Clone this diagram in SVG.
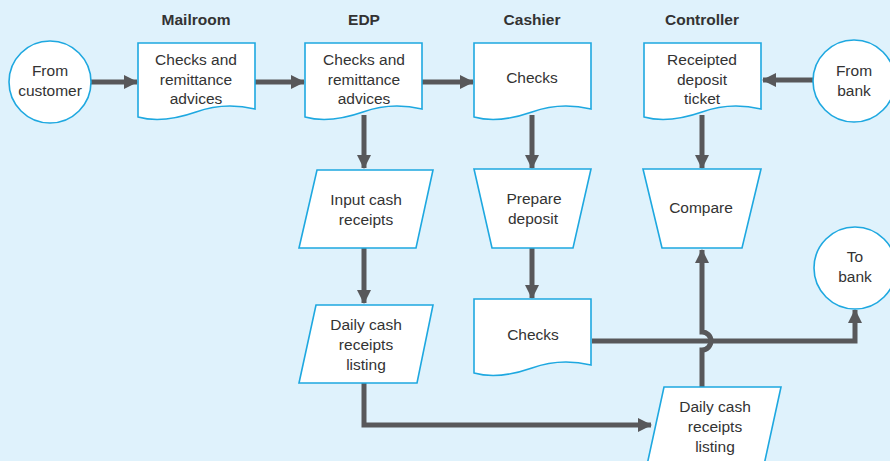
<svg xmlns="http://www.w3.org/2000/svg" width="890" height="461" viewBox="0 0 890 461">
  <defs>
    <style>
      .shape { fill: #ffffff; stroke: #1ea8e0; stroke-width: 1.6; }
      .label { font-family: "Liberation Sans", Arial, sans-serif; font-size: 15.5px; fill: #333333; text-anchor: middle; }
      .head { font-family: "Liberation Sans", Arial, sans-serif; font-size: 15.5px; font-weight: bold; fill: #333333; text-anchor: middle; }
      .flow { fill: none; stroke: #58585a; stroke-width: 5; }
    </style>
    <!-- document symbol with wavy bottom edge -->
    <path id="doc" d="M0,0 H117 V66 C100,62 80,61 58,69 C38,76 18,79 0,74 Z"/>
    <marker id="arr" viewBox="0 0 14 14" refX="13" refY="7" markerWidth="14" markerHeight="14" markerUnits="userSpaceOnUse" orient="auto">
      <path d="M0,0 L14,7 L0,14 Z" fill="#58585a"/>
    </marker>
  </defs>

  <rect width="890" height="461" fill="#dff2fc"/>

  <!-- column headings -->
  <g id="headings">
    <text class="head" x="196" y="25">Mailroom</text>
    <text class="head" x="364" y="25">EDP</text>
    <text class="head" x="532" y="25">Cashier</text>
    <text class="head" x="702" y="25">Controller</text>
  </g>

  <!-- connectors -->
  <g id="connectors">
    <path class="flow" d="M91,82 H137" marker-end="url(#arr)"/>
    <path class="flow" d="M255,82 H304" marker-end="url(#arr)"/>
    <path class="flow" d="M422,82 H473" marker-end="url(#arr)"/>
    <path class="flow" d="M813,80 H763" marker-end="url(#arr)"/>
    <path class="flow" d="M364,115 V168" marker-end="url(#arr)"/>
    <path class="flow" d="M364,248 V303" marker-end="url(#arr)"/>
    <path class="flow" d="M532,115 V168" marker-end="url(#arr)"/>
    <path class="flow" d="M532,248 V298" marker-end="url(#arr)"/>
    <path class="flow" d="M702,115 V168" marker-end="url(#arr)"/>
    <path class="flow" d="M364,383 V425 H651" marker-end="url(#arr)"/>
    <path class="flow" d="M592,341 H855 V310" marker-end="url(#arr)"/>
    <!-- vertical line hops over the horizontal one -->
    <path class="flow" d="M702,387 V350 A9,9 0 0 0 702,332 V250" marker-end="url(#arr)"/>
  </g>

  <g id="from-customer">
    <circle class="shape" cx="50" cy="82" r="41"/>
    <text class="label" x="50" y="76">From</text>
    <text class="label" x="50" y="96">customer</text>
  </g>

  <g id="mailroom-docs">
    <use href="#doc" class="shape" x="138" y="43"/>
    <text class="label" x="196" y="65">Checks and</text>
    <text class="label" x="196" y="85">remittance</text>
    <text class="label" x="196" y="104">advices</text>
  </g>

  <g id="edp-docs">
    <use href="#doc" class="shape" x="305" y="43"/>
    <text class="label" x="364" y="65">Checks and</text>
    <text class="label" x="364" y="85">remittance</text>
    <text class="label" x="364" y="104">advices</text>
  </g>

  <g id="cashier-checks">
    <use href="#doc" class="shape" x="474" y="43"/>
    <text class="label" x="532" y="83">Checks</text>
  </g>

  <g id="receipted-ticket">
    <use href="#doc" class="shape" x="644" y="43"/>
    <text class="label" x="702" y="65">Receipted</text>
    <text class="label" x="702" y="85">deposit</text>
    <text class="label" x="702" y="104">ticket</text>
  </g>

  <g id="from-bank">
    <circle class="shape" cx="854" cy="81" r="41"/>
    <text class="label" x="854" y="76">From</text>
    <text class="label" x="854" y="96">bank</text>
  </g>

  <g id="input-cash">
    <polygon class="shape" points="317,170 433,170 416,248 299,248"/>
    <text class="label" x="366" y="205">Input cash</text>
    <text class="label" x="366" y="225">receipts</text>
  </g>

  <g id="listing-edp">
    <polygon class="shape" points="316,305 433,305 417,383 299,383"/>
    <text class="label" x="366" y="330">Daily cash</text>
    <text class="label" x="366" y="350">receipts</text>
    <text class="label" x="366" y="370">listing</text>
  </g>

  <g id="prepare-deposit">
    <polygon class="shape" points="474,169 591,169 573,248 492,248"/>
    <text class="label" x="534" y="204">Prepare</text>
    <text class="label" x="533" y="224">deposit</text>
  </g>

  <g id="deposit-checks">
    <use href="#doc" class="shape" x="474" y="299"/>
    <text class="label" x="533" y="340">Checks</text>
  </g>

  <g id="compare">
    <polygon class="shape" points="643,169 761,169 742,248 662,248"/>
    <text class="label" x="701" y="213">Compare</text>
  </g>

  <g id="to-bank">
    <circle class="shape" cx="855" cy="268" r="41"/>
    <text class="label" x="855" y="262">To</text>
    <text class="label" x="855" y="282">bank</text>
  </g>

  <g id="listing-controller">
    <polygon class="shape" points="664,387 781,387 764,465 647,465"/>
    <text class="label" x="715" y="412">Daily cash</text>
    <text class="label" x="715" y="432">receipts</text>
    <text class="label" x="715" y="452">listing</text>
  </g>
</svg>
